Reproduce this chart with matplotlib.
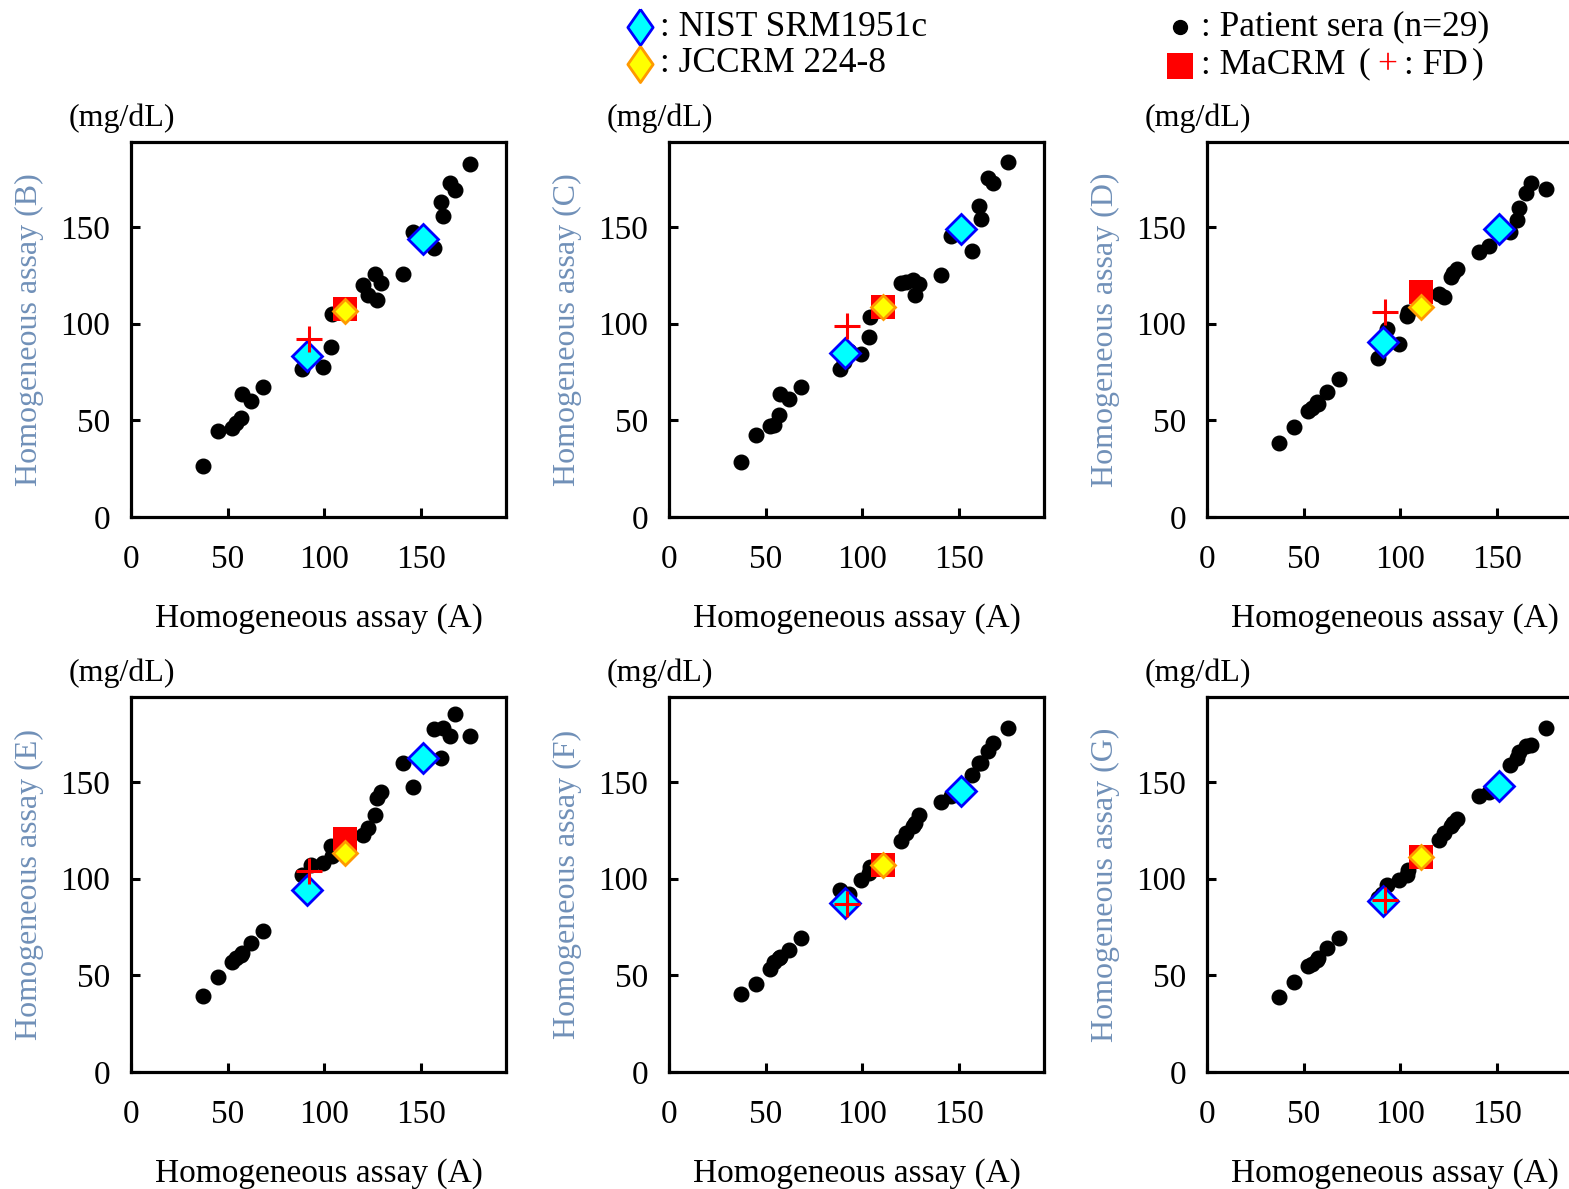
# six method-comparison scatter plots: homogeneous assay (A) vs (B)..(G)
import matplotlib.pyplot as plt
from matplotlib.lines import Line2D

plt.rcParams['font.family'] = ['Liberation Serif', 'DejaVu Serif']

# patient sera, x = homogeneous assay (A), mg/dL
patient_x = [37.5, 44.8, 52.0, 54.5, 57.0, 57.5, 62.0, 68.2, 88.5, 90.5,
             93.0, 99.5, 103.5, 104.0, 110.0, 120.0, 122.5, 126.0, 127.5, 129.5,
             140.8, 146.0, 151.0, 157.0, 160.5, 161.5, 165.0, 167.5, 175.3]

# patient sera, y for each other assay
b_y = [26.2, 44.7, 46.1, 48.7, 51.3, 63.4, 60.0, 67.2, 76.4, 80.0,
       84.0, 77.8, 87.7, 105.0, 108.0, 119.8, 115.1, 125.8, 112.5, 121.1,
       125.8, 147.5, 144.0, 139.2, 163.1, 155.8, 172.6, 169.2, 182.7]
c_y = [28.4, 42.3, 47.0, 47.8, 52.7, 63.4, 60.8, 67.2, 76.4, 80.0,
       86.0, 84.2, 92.9, 103.6, 108.0, 121.0, 121.5, 122.4, 115.1, 120.6,
       125.0, 145.2, 148.0, 137.4, 161.0, 154.4, 175.2, 173.0, 183.9]
d_y = [38.3, 46.4, 54.8, 56.5, 59.4, 58.5, 64.8, 71.2, 82.5, 88.0,
       97.2, 89.4, 104.2, 106.0, 108.0, 115.4, 113.7, 124.1, 126.0, 128.4,
       137.1, 140.0, 148.0, 147.5, 153.6, 159.6, 167.4, 172.6, 169.5]
e_y = [39.1, 49.1, 57.0, 58.8, 60.5, 61.4, 66.7, 73.2, 101.8, 95.0,
       107.0, 107.9, 116.7, 112.0, 115.0, 122.8, 126.3, 132.8, 141.6, 144.7,
       160.0, 147.4, 162.0, 177.7, 162.3, 178.1, 173.7, 185.1, 174.0]
f_y = [40.4, 45.6, 53.5, 57.0, 58.8, 59.5, 63.2, 69.3, 93.9, 88.0,
       92.0, 99.5, 103.0, 106.1, 108.0, 119.3, 123.7, 127.2, 129.0, 132.8,
       139.8, 143.0, 147.0, 153.9, 159.6, 160.0, 166.0, 170.2, 178.1]
g_y = [38.9, 46.8, 54.9, 56.1, 57.9, 59.0, 64.0, 69.3, 90.0, 92.0,
       96.5, 99.1, 102.0, 104.4, 110.0, 120.2, 123.7, 127.2, 129.0, 130.7,
       142.6, 145.0, 150.0, 158.8, 162.3, 165.8, 168.4, 169.3, 178.1]

# reference materials, x = assay (A)
nist_x = [91.0, 151.0]
jccrm_x = 110.5
macrm_x = 110.5
fd_x = 92.2

nist_b, nist_c, nist_d = [83.4, 144.0], [85.1, 149.2], [90.3, 149.2]
nist_e, nist_f, nist_g = [93.9, 162.3], [87.2, 145.6], [88.6, 147.7]
jccrm_y = [106.8, 108.5, 108.5, 113.2, 107.0, 111.4]
macrm_y = [107.5, 108.5, 116.3, 120.7, 107.0, 111.4]
fd_y = [92.0, 98.6, 106.2, 104.2, 86.8, 89.1]

labels = ['B', 'C', 'D', 'E', 'F', 'G']
ticks = [0, 50, 100, 150]

W, H = 1569, 1189
fig = plt.figure(figsize=(W / 100, H / 100), dpi=100)

panel_y = [b_y, c_y, d_y, e_y, f_y, g_y]
panel_nist = [nist_b, nist_c, nist_d, nist_e, nist_f, nist_g]
col_left = [131, 669, 1207]
row_top = [142, 697]
size = 375

for i, lab in enumerate(labels):
    r, c = divmod(i, 3)
    ax = fig.add_axes([col_left[c] / W, 1 - (row_top[r] + size) / H, size / W, size / H])

    ax.plot(patient_x, panel_y[i], 'o', color='black', ms=10.5, mec='black', zorder=2)
    ax.plot(macrm_x, macrm_y[i], 's', color='#ff0000', ms=17, mew=0, zorder=3)
    ax.plot(jccrm_x, jccrm_y[i], 'D', mfc='#ffff00', mec='#ff9900', ms=12, mew=2, zorder=4)
    ax.plot(nist_x, panel_nist[i], 'D', mfc='#00ffff', mec='#0000ff', ms=15, mew=2, zorder=5)
    ax.plot(fd_x, fd_y[i], '+', color='#ff0000', ms=19, mew=2.2, zorder=6)

    ax.set_xlim(0, 194)
    ax.set_ylim(0, 194)
    ax.set_xticks(ticks)
    ax.set_yticks(ticks)
    ax.tick_params(direction='in', length=6.5, width=2.2, labelsize=24, pad=15)
    ax.tick_params(axis='x', pad=20)
    for s in ax.spines.values():
        s.set_linewidth(2.3)

    ax.set_xlabel('Homogeneous assay (A)', fontsize=24, labelpad=20)
    ax.set_ylabel(f'Homogeneous assay ({lab})', fontsize=23, color='#7090b8', labelpad=12)
    ax.text(-0.165, 1.025, '(mg/dL)', transform=ax.transAxes, fontsize=23, va='bottom')

# legend drawn along the top
leg_diamond = [(0, 1), (0.7, 0), (0, -1), (-0.7, 0), (0, 1)]
top = fig.add_axes([0, 0, 1, 1], facecolor='none')
top.set_xlim(0, W)
top.set_ylim(H, 0)
top.axis('off')
top.add_line(Line2D([640], [27], marker=leg_diamond, ms=26, mfc='#00ffff', mec='#0000ff', mew=2))
top.add_line(Line2D([640], [64], marker=leg_diamond, ms=26, mfc='#ffff00', mec='#ff9900', mew=2))
top.add_line(Line2D([1180], [27], marker='o', ms=10, color='black'))
top.add_line(Line2D([1180], [66], marker='s', ms=19, color='#ff0000', mew=0))
leg_font = 25.5
top.text(660, 27, ': NIST SRM1951c', fontsize=leg_font, va='center')
top.text(660, 64, ': JCCRM 224-8', fontsize=leg_font, va='center')
top.text(1201, 27, ': Patient sera (n=29)', fontsize=leg_font, va='center')
top.text(1201, 66, ': MaCRM', fontsize=leg_font, va='center')
top.text(1364, 64, '(', fontsize=leg_font, va='center', ha='center')
top.text(1387, 66, '+', fontsize=leg_font, va='center', ha='center', color='#ff0000')
top.text(1404, 66, ': FD', fontsize=leg_font, va='center')
top.text(1478, 64, ')', fontsize=leg_font, va='center', ha='center')

fig.savefig('out.png', dpi=100)
